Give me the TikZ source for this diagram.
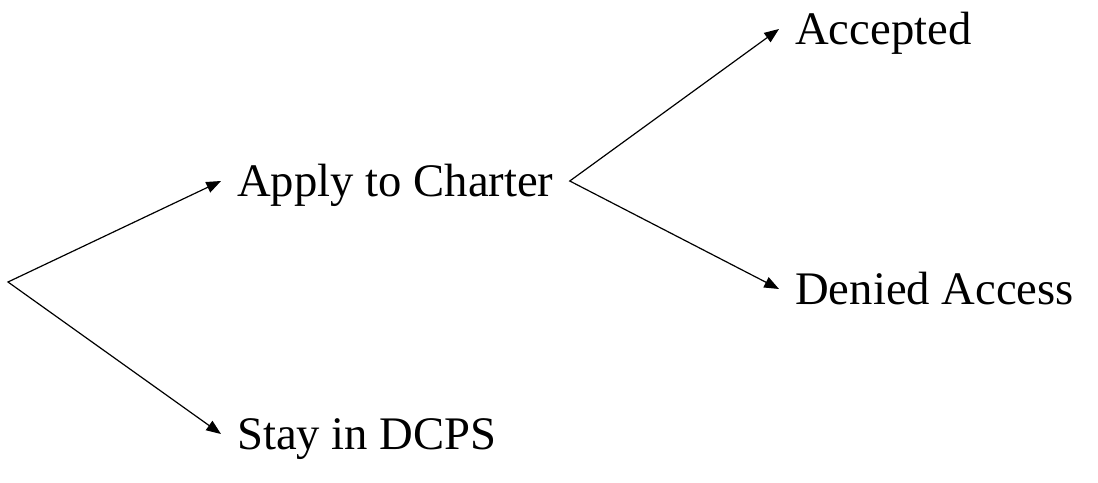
\documentclass[tikz,border=0pt]{standalone}
\usepackage{fontspec}
\setmainfont{Liberation Serif}
\usetikzlibrary{arrows.meta, positioning}

\begin{document}
\begin{tikzpicture}[
    x=0.75pt, y=-0.75pt,
    choice/.style={anchor=west, inner xsep=12pt, inner ysep=0pt, text height=24pt, text depth=0.5pt, font=\fontsize{35}{42}\selectfont},
    fork/.style={{Triangle[length=11pt, width=8.5pt]}-{Triangle[length=11pt, width=8.5pt]}, line width=0.9pt}
]

% Canvas
\useasboundingbox (0,0) rectangle (1098,482);

% Decision point
\coordinate (root) at (8,282);

% First choice
\node[choice] (apply) at (221,181) {Apply to Charter};
\node[choice] (stay) at (221,434) {Stay in DCPS};

% Outcomes of applying
\node[choice] (accepted) at (779,29) {Accepted};
\node[choice] (denied) at (779,289) {Denied Access};

% Branches
\draw[fork] (apply.west) -- (root) -- (stay.west);
\draw[fork] (accepted.west) -- (apply.east) -- (denied.west);

\end{tikzpicture}
\end{document}
